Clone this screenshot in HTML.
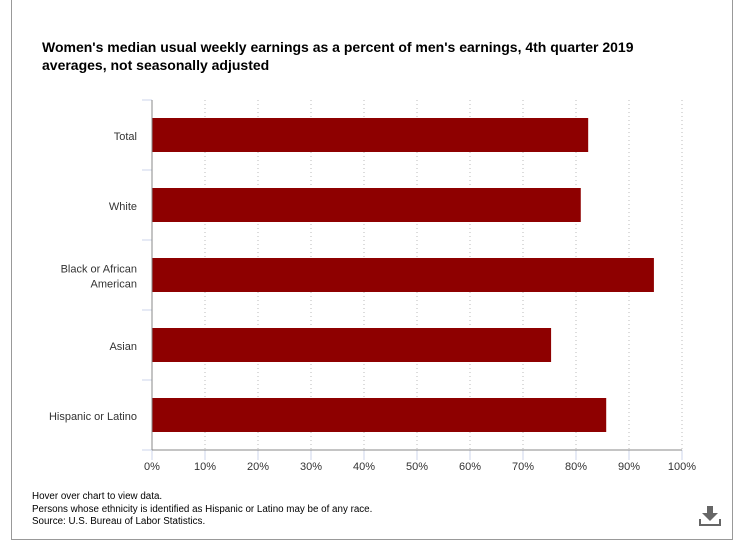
<!DOCTYPE html>
<html><head><meta charset="utf-8"><style>
body{margin:0;background:#fff;width:745px;height:550px;overflow:hidden;font-family:"Liberation Sans",Arial,sans-serif;}
#frame{position:absolute;left:11px;top:0;width:720px;height:539px;border-left:1px solid #999;border-right:1px solid #999;border-bottom:1px solid #999;}
#title{position:absolute;left:42px;top:38px;font-size:14px;font-weight:bold;color:#000;line-height:18px;width:640px;}
#notes{position:absolute;left:32px;top:491px;font-size:9.8px;line-height:12.5px;color:#000;}
svg{position:absolute;left:0;top:0;}
</style></head><body>
<div id="frame"></div>
<div id="title">Women's median usual weekly earnings as a percent of men's earnings, 4th quarter 2019 averages, not seasonally adjusted</div>
<div id="notes">Hover over chart to view data.<br>Persons whose ethnicity is identified as Hispanic or Latino may be of any race.<br>Source: U.S. Bureau of Labor Statistics.</div>
<svg id="chart" width="745" height="550">
<g fill="#666">
<rect x="707" y="506" width="6" height="8"></rect><polygon points="702,513 718,513 710,521"></polygon>
<rect x="699" y="524" width="22" height="2"></rect><rect x="699" y="519" width="2" height="6"></rect><rect x="719" y="519" width="2" height="6"></rect>
</g>
</svg>
<script>
const categories=["Total","White","Black or African American","Asian","Hispanic or Latino"];
const values=[82.3,80.9,94.7,75.3,85.7];
const ticks=[0,10,20,30,40,50,60,70,80,90,100];
const ns="http://www.w3.org/2000/svg";
const svg=document.getElementById('chart');
const x0=152,x1=682,yTop=100,yBot=450;
const xs=v=>x0+(v/100)*(x1-x0);
const band=(yBot-yTop)/categories.length;
function mk(t,a,p){const e=document.createElementNS(ns,t);for(const k in a)e.setAttribute(k,a[k]);(p||svg).appendChild(e);return e;}
ticks.forEach(t=>{
  const x=xs(t);
  if(t>0){const g=mk('line',{x1:x,x2:x,y1:yTop,y2:yBot,stroke:'#bbb','stroke-dasharray':'1,3'});
  
  }
  const tk=mk('line',{x1:x,x2:x,y1:yBot,y2:yBot+10,stroke:'#ccd6eb'});
  
  
  const l=mk('text',{x:x,y:yBot+20,'text-anchor':'middle','font-size':11,fill:'#333'});
  l.textContent=t+'%';
  
  
});
for(let i=0;i<=categories.length;i++){
  const y=yTop+i*band;
  const tk=mk('line',{x1:x0-10,x2:x0,y1:y,y2:y,stroke:'#ccd6eb'});
  
  
}
categories.forEach((c,i)=>{
  const yc=yTop+band*(i+0.5);
  const b=mk('rect',{x:x0,y:yc-17,width:xs(values[i])-x0,height:34,fill:'#8e0000'});
  
  
  const parts=c==="Black or African American"?["Black or African","American"]:[c];
  const t=mk('text',{x:137,'text-anchor':'end','font-size':11,fill:'#333'});
  
  
  parts.forEach((p,j)=>{const s=mk('tspan',{x:137,y:yc+5+(j-(parts.length-1)/2)*15},t);s.textContent=p;});
});
const ax=mk('line',{x1:x0,x2:x1,y1:yBot,y2:yBot,stroke:'#888'});


const ay=mk('line',{x1:x0,x2:x0,y1:yTop,y2:yBot,stroke:'#888'});


</script>
</body></html>
